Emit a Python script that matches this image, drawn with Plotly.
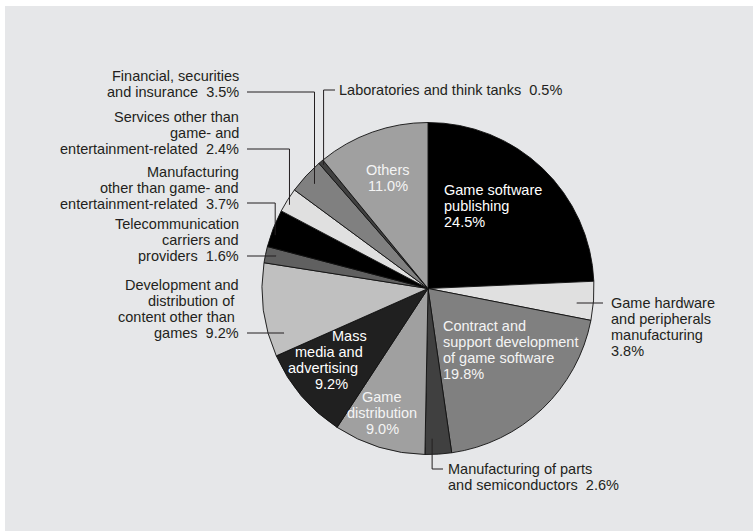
import math
import plotly.graph_objects as go

# Share of companies by business category (%), clockwise from 12 o'clock
categories = [
    "Game software publishing",
    "Game hardware and peripherals manufacturing",
    "Contract and support development of game software",
    "Manufacturing of parts and semiconductors",
    "Game distribution",
    "Mass media and advertising",
    "Development and distribution of content other than games",
    "Telecommunication carriers and providers",
    "Manufacturing other than game- and entertainment-related",
    "Services other than game- and entertainment-related",
    "Financial, securities and insurance",
    "Laboratories and think tanks",
    "Others",
]
shares = [24.5, 3.8, 19.8, 2.6, 9.0, 9.2, 9.2, 1.6, 3.7, 2.4, 3.5, 0.5, 11.0]
slice_colors = ["#000000", "#e0e0e0", "#808080", "#404040", "#a0a0a0", "#202020",
                "#c0c0c0", "#606060", "#000000", "#e0e0e0", "#808080", "#404040", "#a0a0a0"]

W, H = 753, 531
CX, CY, R = 428.0, 288.5, 166.0          # pie centre and radius in pixels
FONT = "Liberation Sans, Arial, sans-serif"
FONT_SIZE = 14.5
DARK = "#231f20"
LINE_H = 16
NB = "\u00a0 "                            # double space before the percentage


def pct(i):
    return f"{shares[i]:.1f}%"


def px(x):
    return x / W


def py(y):
    return 1 - y / H


def slice_point(i, offset_deg, rfrac):
    total = sum(shares)
    start = sum(shares[:i])
    mid = (start + shares[i] / 2) / total * 360 + offset_deg
    a = math.radians(mid)
    return CX + rfrac * R * math.sin(a), CY - rfrac * R * math.cos(a)


fig = go.Figure(go.Pie(
    labels=categories,
    values=shares,
    sort=False,
    direction="clockwise",
    rotation=0,
    marker=dict(colors=slice_colors, line=dict(color="#111111", width=0.9)),
    textinfo="none",
    hoverinfo="label+value",
    showlegend=False,
    domain=dict(x=[px(CX - R), px(CX + R)], y=[py(CY + R), py(CY - R)]),
))

annotations = []


def add_label(lines, x, y_top, anchor, color=DARK, dxs=None):
    for k, line in enumerate(lines):
        dx = dxs[k] if dxs else 0
        annotations.append(dict(
            text=line, x=px(x + dx), y=py(y_top + k * LINE_H),
            xref="paper", yref="paper", xanchor=anchor, yanchor="middle",
            showarrow=False, font=dict(family=FONT, size=FONT_SIZE, color=color),
        ))


# Outside labels (dark text)
add_label(["Financial, securities", "and insurance" + NB + pct(10)], 241, 76, "right")
add_label(["Laboratories and think tanks" + NB + pct(11)], 337, 90, "left")
add_label(["Services other than", "game- and", "entertainment-related" + NB + pct(9)], 241, 117, "right")
add_label(["Manufacturing", "other than game- and", "entertainment-related" + NB + pct(8)], 241, 172, "right")
add_label(["Telecommunication", "carriers and", "providers" + NB + pct(7)], 241, 224, "right")
add_label(["Development and", "distribution of", "content other than", "games" + NB + pct(6)],
          241, 285, "right", dxs=[0, -4, -4, 0])
add_label(["Game hardware", "and peripherals", "manufacturing", pct(1)], 609, 303, "left")
add_label(["Manufacturing of parts", "and semiconductors" + NB + pct(3)], 446, 469, "left")

# Inside labels (white text)
add_label(["Others", pct(12)], 388, 170, "center", color="#f4f4f4")
add_label(["Game software", "publishing", pct(0)], 442, 190, "left", color="#ffffff")
add_label(["Contract and", "support development", "of game software", pct(2)], 441, 326, "left", color="#f4f4f4")
for k, (line, xc) in enumerate(zip(["Mass", "media and", "advertising", pct(5)], [349, 329, 323, 331])):
    add_label([line], xc, 336 + k * LINE_H, "center", color="#ffffff")
add_label(["Game", "distribution", pct(4)], 382, 397, "center", color="#f4f4f4")

# Leader lines: (label end x, label line y, slice index, angle offset, radius fraction)
leaders = [
    (247, 92, 10, 0.0, 0.93),
    (335, 90, 11, 0.0, 0.975),
    (247, 149, 9, -1.0, 0.975),
    (247, 203, 8, -2.0, 0.975),
    (247, 256, 7, 0.3, 0.936),
    (247, 333, 6, -9.7, 0.908),
    (603, 303, 1, 1.3, 0.90),
    (443, 469, 3, 2.0, 0.905),
]
shapes = []
for lx, ly, i, off, rf in leaders:
    ex, ey = slice_point(i, off, rf)
    path = f"M {px(lx)} {py(ly)} L {px(ex)} {py(ly)} L {px(ex)} {py(ey)}"
    shapes.append(dict(type="path", path=path, xref="paper", yref="paper",
                       line=dict(color=DARK, width=1)))

# White strips along the top and left edges of the panel
shapes.append(dict(type="rect", xref="paper", yref="paper", x0=0, x1=1, y0=py(6), y1=1,
                   fillcolor="#ffffff", line=dict(width=0)))
shapes.append(dict(type="rect", xref="paper", yref="paper", x0=0, x1=px(5), y0=0, y1=1,
                   fillcolor="#ffffff", line=dict(width=0)))

fig.update_layout(
    width=W, height=H,
    margin=dict(l=0, r=0, t=0, b=0),
    paper_bgcolor="#e6e7e9",
    plot_bgcolor="#e6e7e9",
    annotations=annotations,
    shapes=shapes,
    font=dict(family=FONT, color=DARK),
)

fig.write_html("out.html")
